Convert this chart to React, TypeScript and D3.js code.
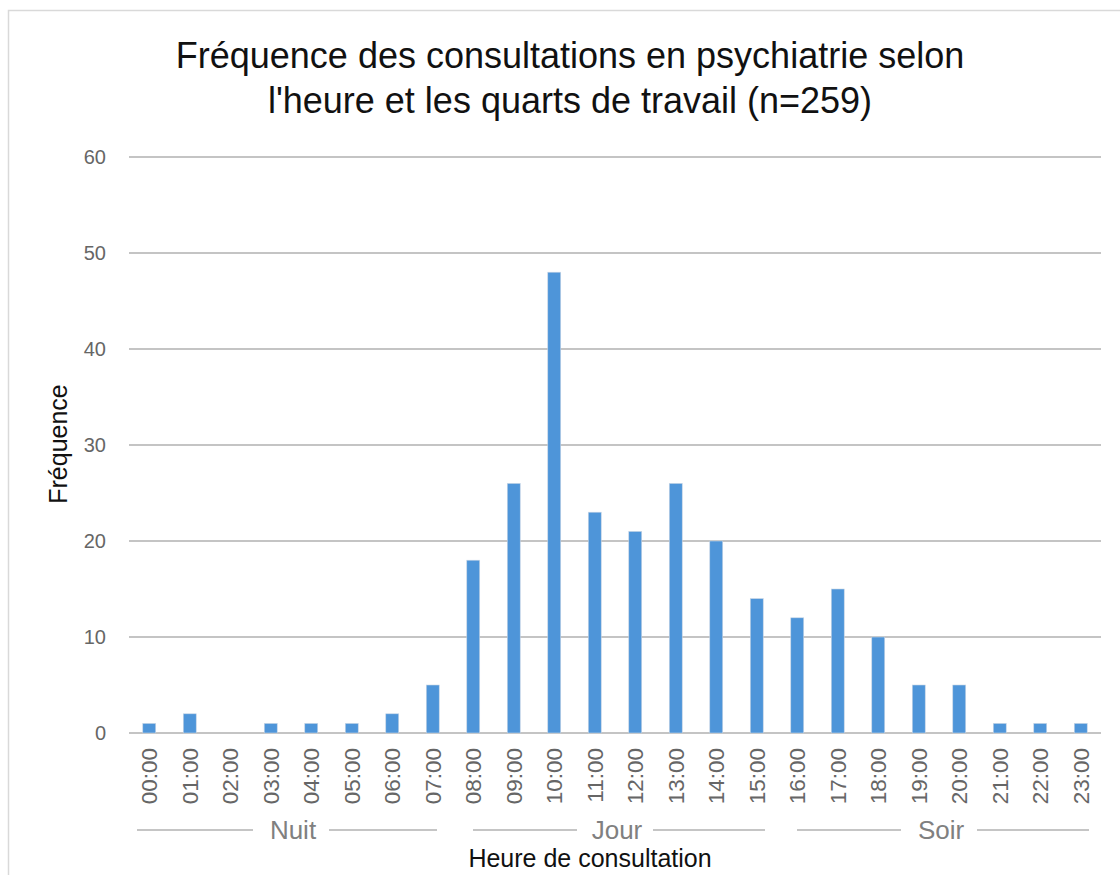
import React from 'react';
import * as d3 from 'd3';

// hourly counts of psychiatric consultations
const hours = ['00:00', '01:00', '02:00', '03:00', '04:00', '05:00', '06:00', '07:00',
  '08:00', '09:00', '10:00', '11:00', '12:00', '13:00', '14:00', '15:00',
  '16:00', '17:00', '18:00', '19:00', '20:00', '21:00', '22:00', '23:00'];
const counts = [1, 2, 0, 1, 1, 1, 2, 5, 18, 26, 48, 23, 21, 26, 20, 14, 12, 15, 10, 5, 5, 1, 1, 1];
const shifts = ['Nuit', 'Jour', 'Soir'];
const yTicks = [0, 10, 20, 30, 40, 50, 60];

const width = 1120;
const height = 875;
const marginLeft = 129;
const marginRight = 19;
const plotTop = 157;
const plotBottom = 733;
const font = '"Liberation Sans", Arial, sans-serif';

const App = () => {
  const x = d3.scaleBand<string>()
    .domain(hours)
    .range([marginLeft, width - marginRight])
    .paddingInner(0.68)
    .paddingOuter(0.34);
  const y = d3.scaleLinear().domain([0, 60]).range([plotBottom, plotTop]);
  const step = x.step();
  const barW = x.bandwidth();

  return (
    <svg width={width} height={height} style={{ position: 'absolute', left: 0, top: 0 }}>
      <rect x={0} y={0} width={width} height={height} fill="#fff" />
      <rect x={8.5} y={10.5} width={width + 20} height={height + 20} fill="none" stroke="#d9d9d9" strokeWidth={1.5} />

      <text x={570} y={68} textAnchor="middle" fontFamily={font} fontSize={36} fill="#111">
        Fréquence des consultations en psychiatrie selon
      </text>
      <text x={570} y={113} textAnchor="middle" fontFamily={font} fontSize={36} fill="#111">
        l'heure et les quarts de travail (n=259)
      </text>

      {/* gridlines */}
      {yTicks.map(t => (
        <g key={t}>
          <line x1={marginLeft} x2={width - marginRight} y1={y(t)} y2={y(t)} stroke="#c4c4c4" strokeWidth={2} />
          <text x={106} y={y(t)} dy="0.35em" textAnchor="end" fontFamily={font} fontSize={20} fill="#666">
            {t}
          </text>
        </g>
      ))}

      {/* bars */}
      {counts.map((c, i) => (
        c > 0 ? (
          <rect key={hours[i]} x={x(hours[i])} y={y(c)} width={barW} height={y(0) - y(c)}
            fill="#4e95d9" stroke="#c8d6e5" strokeWidth={0.6} />
        ) : null
      ))}

      {/* hour labels */}
      {hours.map(h => {
        const cx = (x(h) as number) + barW / 2;
        return (
          <text key={h} transform={`translate(${cx},748) rotate(-90)`} textAnchor="end" dy="0.35em"
            fontFamily={font} fontSize={22.5} fill="#666">
            {h}
          </text>
        );
      })}

      {/* shift groups */}
      {shifts.map((s, g) => {
        const x0 = marginLeft + g * 8 * step;
        const x1 = x0 + 8 * step;
        const mid = (x0 + x1) / 2 + 2;
        return (
          <g key={s}>
            <line x1={x0 + (g === 0 ? 8 : 20)} x2={mid - 40} y1={830} y2={830} stroke="#8c8c8c" strokeWidth={1.2} />
            <line x1={mid + 36} x2={x1 - (g === 0 ? 16 : 12)} y1={830} y2={830} stroke="#8c8c8c" strokeWidth={1.2} />
            <text x={mid} y={830} dy="0.35em" textAnchor="middle" fontFamily={font} fontSize={26} fill="#808080">
              {s}
            </text>
          </g>
        );
      })}

      <text x={590} y={867} textAnchor="middle" fontFamily={font} fontSize={25} fill="#111">
        Heure de consultation
      </text>
      <text transform={`translate(67,444) rotate(-90)`} textAnchor="middle" fontFamily={font} fontSize={25} fill="#111">
        Fréquence
      </text>
    </svg>
  );
};

export default App;
